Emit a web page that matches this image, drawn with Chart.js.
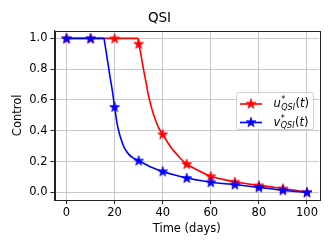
<!DOCTYPE html>
<html>
<head>
<meta charset="utf-8">
<script src="https://cdn.jsdelivr.net/npm/chart.js@4"></script>
<style>
  body { margin: 0; background: #fff; }
  canvas { display: block; }
</style>
</head>
<body>
<canvas id="qsiChart" width="332" height="249"></canvas>
<script>
// curve samples (time in days)
const tU = [0, 10, 20, 29.7, 30, 30.5, 31, 32, 33, 34, 35, 36, 37, 38, 39, 40, 42, 44, 46, 48, 50, 55, 60, 65, 70, 75, 80, 85, 90, 95, 100];
const uVals = [1, 1, 1, 1, 0.965, 0.93, 0.89, 0.80, 0.72, 0.635, 0.57, 0.515, 0.47, 0.43, 0.40, 0.377, 0.325, 0.28, 0.245, 0.21, 0.184, 0.14, 0.104, 0.084, 0.068, 0.056, 0.045, 0.035, 0.025, 0.013, 0];
const tV = [0, 10, 15.5, 16, 17, 18, 19, 20, 21, 22, 23, 24, 26, 28, 30, 35, 40, 45, 50, 55, 60, 65, 70, 75, 80, 85, 90, 95, 100];
const vVals = [1, 1, 1, 0.96, 0.86, 0.76, 0.665, 0.555, 0.45, 0.38, 0.33, 0.29, 0.245, 0.22, 0.206, 0.165, 0.136, 0.112, 0.093, 0.078, 0.065, 0.057, 0.05, 0.041, 0.032, 0.023, 0.013, 0.006, 0];

// star markers every 10 days
const tMark = [0, 10, 20, 30, 40, 50, 60, 70, 80, 90, 100];
const uMark = [1, 1, 1, 0.965, 0.377, 0.184, 0.104, 0.068, 0.045, 0.025, 0];
const vMark = [1, 1, 0.555, 0.206, 0.136, 0.093, 0.065, 0.05, 0.032, 0.013, 0];

const xTicks = [0, 20, 40, 60, 80, 100];
const yTicks = [0, 0.2, 0.4, 0.6, 0.8, 1.0];

const RED = "#ff0000";
const BLUE = "#0000ff";
const FONT = "'DejaVu Sans', sans-serif";

const pts = (xs, ys) => xs.map((x, i) => ({ x, y: ys[i] }));

// filled 5-point star like matplotlib's '*'
function starImage(color) {
  const c = document.createElement("canvas");
  c.width = 12; c.height = 12;
  const g = c.getContext("2d");
  const R = 5.2, r = R * 0.382;
  g.beginPath();
  for (let k = 0; k < 10; k++) {
    const a = -Math.PI / 2 + k * Math.PI / 5;
    const rad = k % 2 ? r : R;
    g.lineTo(6 + rad * Math.cos(a), 6.4 + rad * Math.sin(a));
  }
  g.closePath();
  g.fillStyle = color;
  g.fill();
  g.strokeStyle = color;
  g.lineWidth = 0.8;
  g.stroke();
  return c;
}
const redStar = starImage(RED);
const blueStar = starImage(BLUE);

const frame = {
  id: "frame",
  afterDraw(chart) {
    const { ctx, chartArea: a } = chart;
    ctx.save();
    ctx.strokeStyle = "#222";
    ctx.lineWidth = 1;
    ctx.strokeRect(Math.round(a.left) + 0.5, Math.round(a.top) + 0.5, Math.round(a.right - a.left), Math.round(a.bottom - a.top));
    ctx.restore();
  },
};

// legend with mathtext-like labels
function drawLabel(ctx, x, y, base, sub) {
  ctx.textBaseline = "alphabetic";
  ctx.textAlign = "left";
  ctx.font = "italic 11.5px " + FONT;
  ctx.fillText(base, x, y);
  x += ctx.measureText(base).width + 0.5;
  ctx.font = "8px " + FONT;
  ctx.fillText("*", x, y - 5);
  ctx.font = "italic 8px " + FONT;
  ctx.fillText(sub, x, y + 2.5);
  x += ctx.measureText(sub).width + 0.5;
  ctx.font = "11.5px " + FONT;
  ctx.fillText("(", x, y);
  x += ctx.measureText("(").width;
  ctx.font = "italic 11.5px " + FONT;
  ctx.fillText("t", x, y);
  x += ctx.measureText("t").width;
  ctx.font = "11.5px " + FONT;
  ctx.fillText(")", x, y);
}

const legendBox = {
  id: "legendBox",
  afterDraw(chart) {
    const { ctx } = chart;
    const x0 = 236.5, y0 = 92.5, w = 77, h = 37;
    ctx.save();
    ctx.fillStyle = "rgba(255,255,255,0.85)";
    ctx.strokeStyle = "#d0d0d0";
    ctx.lineWidth = 1;
    ctx.beginPath();
    ctx.roundRect(x0, y0, w, h, 2);
    ctx.fill();
    ctx.stroke();
    const rows = [
      { color: RED, star: redStar, y: 104, base: "u" },
      { color: BLUE, star: blueStar, y: 122.5, base: "v" },
    ];
    rows.forEach(row => {
      ctx.strokeStyle = row.color;
      ctx.lineWidth = 1.6;
      ctx.beginPath();
      ctx.moveTo(240, row.y);
      ctx.lineTo(262, row.y);
      ctx.stroke();
      ctx.drawImage(row.star, 251 - 6, row.y - 6.4);
      ctx.fillStyle = "#000";
      drawLabel(ctx, 273.5, row.y + 3, row.base, "QSI");
    });
    ctx.restore();
  },
};

new Chart(document.getElementById("qsiChart"), {
  type: "line",
  data: {
    datasets: [
      { data: pts(tMark, vMark), showLine: false, pointStyle: blueStar, pointRadius: 5, pointHoverRadius: 5 },
      { data: pts(tV, vVals), borderColor: BLUE, borderWidth: 1.6, pointRadius: 0, tension: 0.3, cubicInterpolationMode: "monotone" },
      { data: pts(tMark, uMark), showLine: false, pointStyle: redStar, pointRadius: 5, pointHoverRadius: 5 },
      { data: pts(tU, uVals), borderColor: RED, borderWidth: 1.6, pointRadius: 0, tension: 0.3, cubicInterpolationMode: "monotone" },
    ],
  },
  options: {
    responsive: false,
    animation: false,
    events: [],
    layout: { padding: { left: 0, right: 13, top: 0, bottom: 0 } },
    plugins: {
      legend: { display: false },
      tooltip: { enabled: false },
      title: {
        display: true,
        text: "QSI",
        color: "#000",
        font: { family: FONT, size: 13.5, weight: "normal", lineHeight: 1.2 },
        padding: { top: 10.4, bottom: 4.1 },
      },
    },
    scales: {
      x: {
        type: "linear",
        min: -5,
        max: 105,
        afterBuildTicks: s => { s.ticks = xTicks.map(v => ({ value: v })); },
        afterFit: s => { s.height = 49; },
        grid: { color: "#c8c8c8", lineWidth: 1, tickLength: 4, tickColor: "#222" },
        border: { color: "#222", width: 1 },
        ticks: { color: "#000", font: { family: FONT, size: 11.5 }, padding: 2, maxRotation: 0 },
        title: { display: true, text: "Time (days)", color: "#000", font: { family: FONT, size: 11.5 }, padding: { top: 0, bottom: 13.1 } },
      },
      y: {
        min: -0.05,
        max: 1.05,
        afterBuildTicks: s => { s.ticks = yTicks.map(v => ({ value: v })); },
        afterFit: s => { s.width = 54.5; },
        grid: { color: "#c8c8c8", lineWidth: 1, tickLength: 4, tickColor: "#222" },
        border: { color: "#222", width: 1 },
        ticks: { color: "#000", font: { family: FONT, size: 11.5 }, padding: 3, callback: v => v.toFixed(1) },
        title: { display: true, text: "Control", color: "#000", font: { family: FONT, size: 11.5 }, padding: { top: 11.1, bottom: 0 } },
      },
    },
  },
  plugins: [frame, legendBox],
});
</script>
</body>
</html>
